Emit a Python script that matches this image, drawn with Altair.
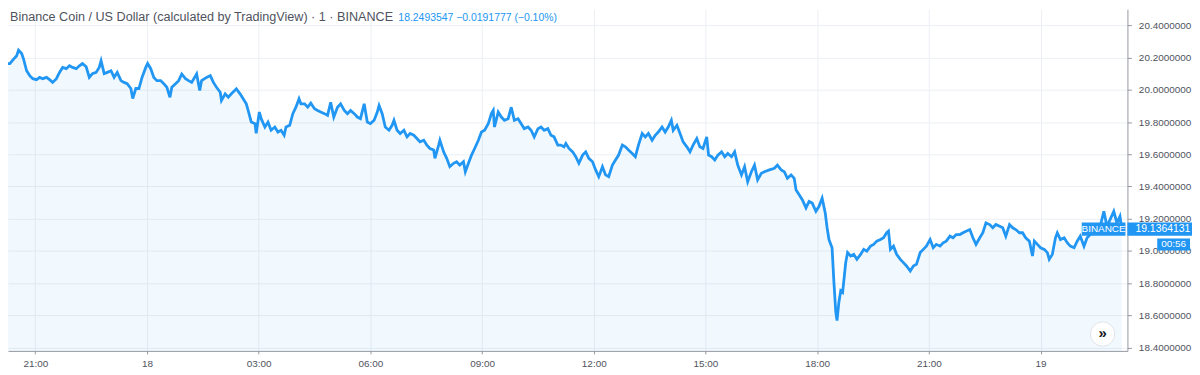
import altair as alt
import pandas as pd

# minutes since 17th 00:00 (1-minute BNB/USD chart)
minutes = [
    1208, 1214, 1219, 1224, 1230, 1233, 1238, 1241, 1246, 1251,
    1256, 1262, 1267, 1272, 1278, 1283, 1288, 1294, 1299, 1304,
    1310, 1315, 1320, 1326, 1331, 1336, 1342, 1347, 1352, 1358,
    1363, 1366, 1371, 1376, 1382, 1387, 1392, 1398, 1403, 1408,
    1414, 1417, 1422, 1427, 1432, 1438, 1441, 1446, 1451, 1456,
    1462, 1467, 1472, 1477, 1480, 1486, 1491, 1496, 1502, 1507,
    1512, 1520, 1525, 1528, 1536, 1542, 1547, 1552, 1558, 1560,
    1566, 1571, 1576, 1584, 1590, 1595, 1600, 1603, 1608, 1614,
    1616, 1621, 1624, 1630, 1635, 1640, 1646, 1651, 1656, 1661,
    1664, 1670, 1675, 1680, 1685, 1688, 1694, 1699, 1704, 1710,
    1715, 1720, 1726, 1731, 1736, 1741, 1747, 1752, 1758, 1763,
    1768, 1774, 1779, 1784, 1790, 1795, 1800, 1806, 1811, 1814,
    1819, 1824, 1830, 1835, 1838, 1843, 1848, 1854, 1859, 1864,
    1870, 1875, 1880, 1886, 1891, 1896, 1902, 1904, 1910, 1912,
    1918, 1923, 1928, 1934, 1939, 1944, 1950, 1953, 1958, 1963,
    1968, 1974, 1979, 1984, 1990, 1995, 1998, 2000, 2006, 2011,
    2016, 2022, 2027, 2032, 2038, 2043, 2048, 2054, 2059, 2064,
    2070, 2075, 2080, 2086, 2091, 2096, 2102, 2107, 2112, 2115,
    2120, 2126, 2131, 2136, 2142, 2147, 2152, 2158, 2163, 2168,
    2174, 2179, 2184, 2190, 2195, 2200, 2206, 2211, 2216, 2222,
    2227, 2232, 2238, 2243, 2248, 2254, 2259, 2264, 2270, 2275,
    2280, 2285, 2288, 2294, 2299, 2304, 2310, 2315, 2320, 2326,
    2331, 2336, 2342, 2345, 2350, 2355, 2360, 2366, 2371, 2376,
    2382, 2387, 2392, 2398, 2403, 2408, 2414, 2419, 2424, 2430,
    2435, 2443, 2451, 2456, 2462, 2467, 2472, 2478, 2483, 2486,
    2491, 2496, 2502, 2507, 2512, 2518, 2523, 2528, 2533, 2536,
    2539, 2544, 2547, 2550, 2552, 2555, 2558, 2561, 2566, 2569,
    2574, 2579, 2584, 2590, 2595, 2600, 2606, 2611, 2616, 2622,
    2627, 2632, 2635, 2638, 2643, 2648, 2654, 2659, 2664, 2670,
    2675, 2680, 2686, 2691, 2696, 2702, 2707, 2712, 2718, 2723,
    2728, 2734, 2739, 2744, 2750, 2755, 2760, 2766, 2771, 2776,
    2782, 2787, 2792, 2798, 2803, 2808, 2814, 2819, 2824, 2830,
    2835, 2840, 2846, 2851, 2856, 2862, 2867, 2870, 2875, 2880,
    2886, 2891, 2894, 2899, 2904, 2907, 2912, 2918, 2923, 2928,
    2934, 2939, 2944, 2950, 2955, 2960, 2966, 2971, 2976, 2982,
    2987, 2992, 2998, 3003, 3008, 3011,
]

prices = [
    20.184, 20.163, 20.162, 20.186, 20.211, 20.246, 20.225, 20.192, 20.118, 20.088,
    20.069, 20.063, 20.077, 20.069, 20.077, 20.063, 20.046, 20.069, 20.108, 20.139,
    20.131, 20.149, 20.139, 20.131, 20.149, 20.163, 20.143, 20.077, 20.100, 20.108,
    20.139, 20.180, 20.100, 20.108, 20.118, 20.077, 20.108, 20.057, 20.046, 20.038,
    20.008, 19.946, 20.008, 20.008, 20.077, 20.139, 20.163, 20.131, 20.077, 20.057,
    20.057, 20.038, 20.016, 19.954, 20.016, 20.038, 20.057, 20.098, 20.069, 20.057,
    20.046, 20.098, 19.995, 20.057, 20.077, 20.088, 20.046, 20.016, 19.985, 19.934,
    19.975, 19.954, 19.975, 20.006, 19.975, 19.944, 19.913, 19.872, 19.800, 19.790,
    19.730, 19.862, 19.821, 19.769, 19.800, 19.749, 19.769, 19.738, 19.749, 19.718,
    19.769, 19.780, 19.852, 19.892, 19.944, 19.913, 19.913, 19.892, 19.917, 19.883,
    19.872, 19.862, 19.852, 19.841, 19.923, 19.831, 19.892, 19.913, 19.872, 19.852,
    19.872, 19.852, 19.831, 19.821, 19.913, 19.800, 19.790, 19.811, 19.860, 19.903,
    19.852, 19.769, 19.749, 19.780, 19.811, 19.749, 19.729, 19.749, 19.708, 19.729,
    19.718, 19.698, 19.677, 19.687, 19.657, 19.636, 19.626, 19.575, 19.657, 19.687,
    19.615, 19.575, 19.523, 19.544, 19.554, 19.533, 19.554, 19.492, 19.544, 19.595,
    19.636, 19.687, 19.738, 19.749, 19.790, 19.852, 19.872, 19.769, 19.862, 19.831,
    19.811, 19.821, 19.892, 19.811, 19.821, 19.790, 19.759, 19.769, 19.749, 19.708,
    19.759, 19.769, 19.749, 19.759, 19.718, 19.708, 19.657, 19.657, 19.646, 19.667,
    19.636, 19.615, 19.585, 19.544, 19.595, 19.615, 19.575, 19.554, 19.503, 19.461,
    19.523, 19.472, 19.461, 19.533, 19.564, 19.595, 19.657, 19.646, 19.626, 19.605,
    19.585, 19.657, 19.729, 19.708, 19.729, 19.687, 19.718, 19.738, 19.769, 19.738,
    19.769, 19.811, 19.749, 19.780, 19.729, 19.677, 19.646, 19.615, 19.657, 19.698,
    19.646, 19.636, 19.708, 19.595, 19.585, 19.564, 19.595, 19.615, 19.585, 19.605,
    19.585, 19.615, 19.533, 19.472, 19.523, 19.430, 19.492, 19.533, 19.441, 19.482,
    19.492, 19.503, 19.513, 19.533, 19.503, 19.492, 19.451, 19.472, 19.451, 19.379,
    19.349, 19.318, 19.267, 19.307, 19.297, 19.246, 19.277, 19.328, 19.236, 19.144,
    19.071, 19.020, 18.805, 18.620, 18.568, 18.682, 18.753, 18.743, 18.928, 18.990,
    18.969, 18.979, 18.948, 18.979, 19.010, 18.999, 19.030, 19.041, 19.061, 19.071,
    19.082, 19.113, 19.123, 19.010, 19.030, 18.979, 18.948, 18.928, 18.907, 18.876,
    18.907, 18.917, 18.990, 19.010, 19.030, 19.071, 19.020, 19.041, 19.030, 19.051,
    19.061, 19.092, 19.082, 19.102, 19.102, 19.113, 19.123, 19.133, 19.082, 19.041,
    19.082, 19.113, 19.174, 19.164, 19.144, 19.164, 19.153, 19.144, 19.092, 19.164,
    19.144, 19.133, 19.113, 19.113, 19.082, 19.061, 18.969, 19.061, 19.041, 19.020,
    19.010, 18.990, 18.948, 18.979, 19.082, 19.113, 19.071, 19.082, 19.051, 19.030,
    19.020, 19.061, 19.092, 19.030, 19.082, 19.102, 19.113, 19.133, 19.153, 19.246,
    19.153, 19.195, 19.246, 19.174, 19.215, 19.136,
]

time_ticks = [1260, 1440, 1620, 1800, 1980, 2160, 2340, 2520, 2700, 2880]
price_ticks = [18.4, 18.6, 18.8, 19.0, 19.2, 19.4, 19.6, 19.8, 20.0, 20.2, 20.4]

title_main = "Binance Coin / US Dollar (calculated by TradingView) \u00b7 1 \u00b7 BINANCE"
title_quote = "18.2493547 \u22120.0191777 (\u22120.10%)"
last_label = "19.1364131"
countdown = "00:56"
exchange = "BINANCE"

assert len(minutes) == len(prices)
df = pd.DataFrame({"t": minutes, "p": prices})

X_DOMAIN = [1216, 3020]
Y_DOMAIN = [18.38, 20.50]
W, H = 1127, 344
BLUE = "#2196f3"
FONT = "Liberation Sans"
last = prices[-1]

label_expr = (
    "datum.value % 1440 == 0 ? '' + (17 + datum.value / 1440) : "
    "(floor((datum.value % 1440) / 60) < 10 ? '0' : '') + floor((datum.value % 1440) / 60) + ':00'"
)

xenc = alt.X(
    "t:Q",
    title=None,
    scale=alt.Scale(domain=X_DOMAIN, nice=False, zero=False),
    axis=alt.Axis(values=time_ticks, tickCount=len(time_ticks) + 2, labelExpr=label_expr,
                  grid=True, tickSize=3, labelPadding=5, labelFlush=False, labelOverlap=False),
)
yenc = alt.Y(
    "p:Q",
    title=None,
    scale=alt.Scale(domain=Y_DOMAIN, nice=False, zero=False),
    axis=alt.Axis(orient="right", values=price_ticks, tickCount=len(price_ticks) + 2,
                  format=".7f", grid=True, tickSize=4, labelPadding=7,
                  labelFlush=False, labelOverlap=False),
)

base = alt.Chart(df)
area = base.mark_area(color=BLUE, opacity=0.06, clip=True).encode(
    x=xenc, y=yenc, y2=alt.datum(Y_DOMAIN[0])
)
line = base.mark_line(color=BLUE, strokeWidth=2.8, clip=True, strokeJoin="miter").encode(
    x=xenc, y=yenc
)

one = pd.DataFrame({"k": [0]})
t1 = alt.Chart(one).mark_text(
    align="left", baseline="middle", font=FONT, fontSize=12.7, color="#50535e"
).encode(x=alt.value(2), y=alt.value(8), text=alt.value(title_main))
t2 = alt.Chart(one).mark_text(
    align="left", baseline="middle", font=FONT, fontSize=10.5, color=BLUE
).encode(x=alt.value(393), y=alt.value(8.5), text=alt.value(title_quote))

box_ex = alt.Chart(one).mark_rect(color=BLUE).encode(
    x=alt.value(1081), x2=alt.value(1125),
    y=alt.datum(last + 0.041), y2=alt.datum(last - 0.041),
)
txt_ex = alt.Chart(one).mark_text(
    font=FONT, fontSize=10, color="white", baseline="middle"
).encode(x=alt.value(1103), y=alt.datum(last), text=alt.value(exchange))
box_px = alt.Chart(one).mark_rect(color=BLUE).encode(
    x=alt.value(1127), x2=alt.value(1192),
    y=alt.datum(last + 0.041), y2=alt.datum(last - 0.041),
)
txt_px = alt.Chart(one).mark_text(
    font=FONT, fontSize=10.5, color="white", baseline="middle", align="left"
).encode(x=alt.value(1135), y=alt.datum(last), text=alt.value(last_label))
box_cd = alt.Chart(one).mark_rect(color=BLUE).encode(
    x=alt.value(1157), x2=alt.value(1190),
    y=alt.datum(last - 0.058), y2=alt.datum(last - 0.133),
)
txt_cd = alt.Chart(one).mark_text(
    font=FONT, fontSize=10, color="white", baseline="middle"
).encode(x=alt.value(1173.5), y=alt.datum(last - 0.0955), text=alt.value(countdown))

btn = alt.Chart(one).mark_point(
    shape="circle", filled=True, fill="white", stroke="#e0e3eb", strokeWidth=1,
    size=600, opacity=1
).encode(x=alt.value(1102), y=alt.value(327))
btn_txt = alt.Chart(one).mark_text(
    font=FONT, fontSize=15, fontWeight="bold", color="#131722", baseline="middle"
).encode(x=alt.value(1102), y=alt.value(326), text=alt.value("\u00bb"))

chart = (
    alt.layer(area, line, t1, t2, box_ex, txt_ex, box_px, txt_px, box_cd, txt_cd, btn, btn_txt)
    .properties(width=W, height=H, padding=0, background="white")
    .configure_view(stroke=None)
    .configure_axis(
        labelFont=FONT, labelFontSize=10, labelColor="#50535e",
        tickColor="#9598a1", domainColor="#9598a1", gridColor="#eceff4",
        gridWidth=1, domainWidth=1,
    )
)

chart.save("out.html", embed_options={"renderer": "svg", "actions": False})
